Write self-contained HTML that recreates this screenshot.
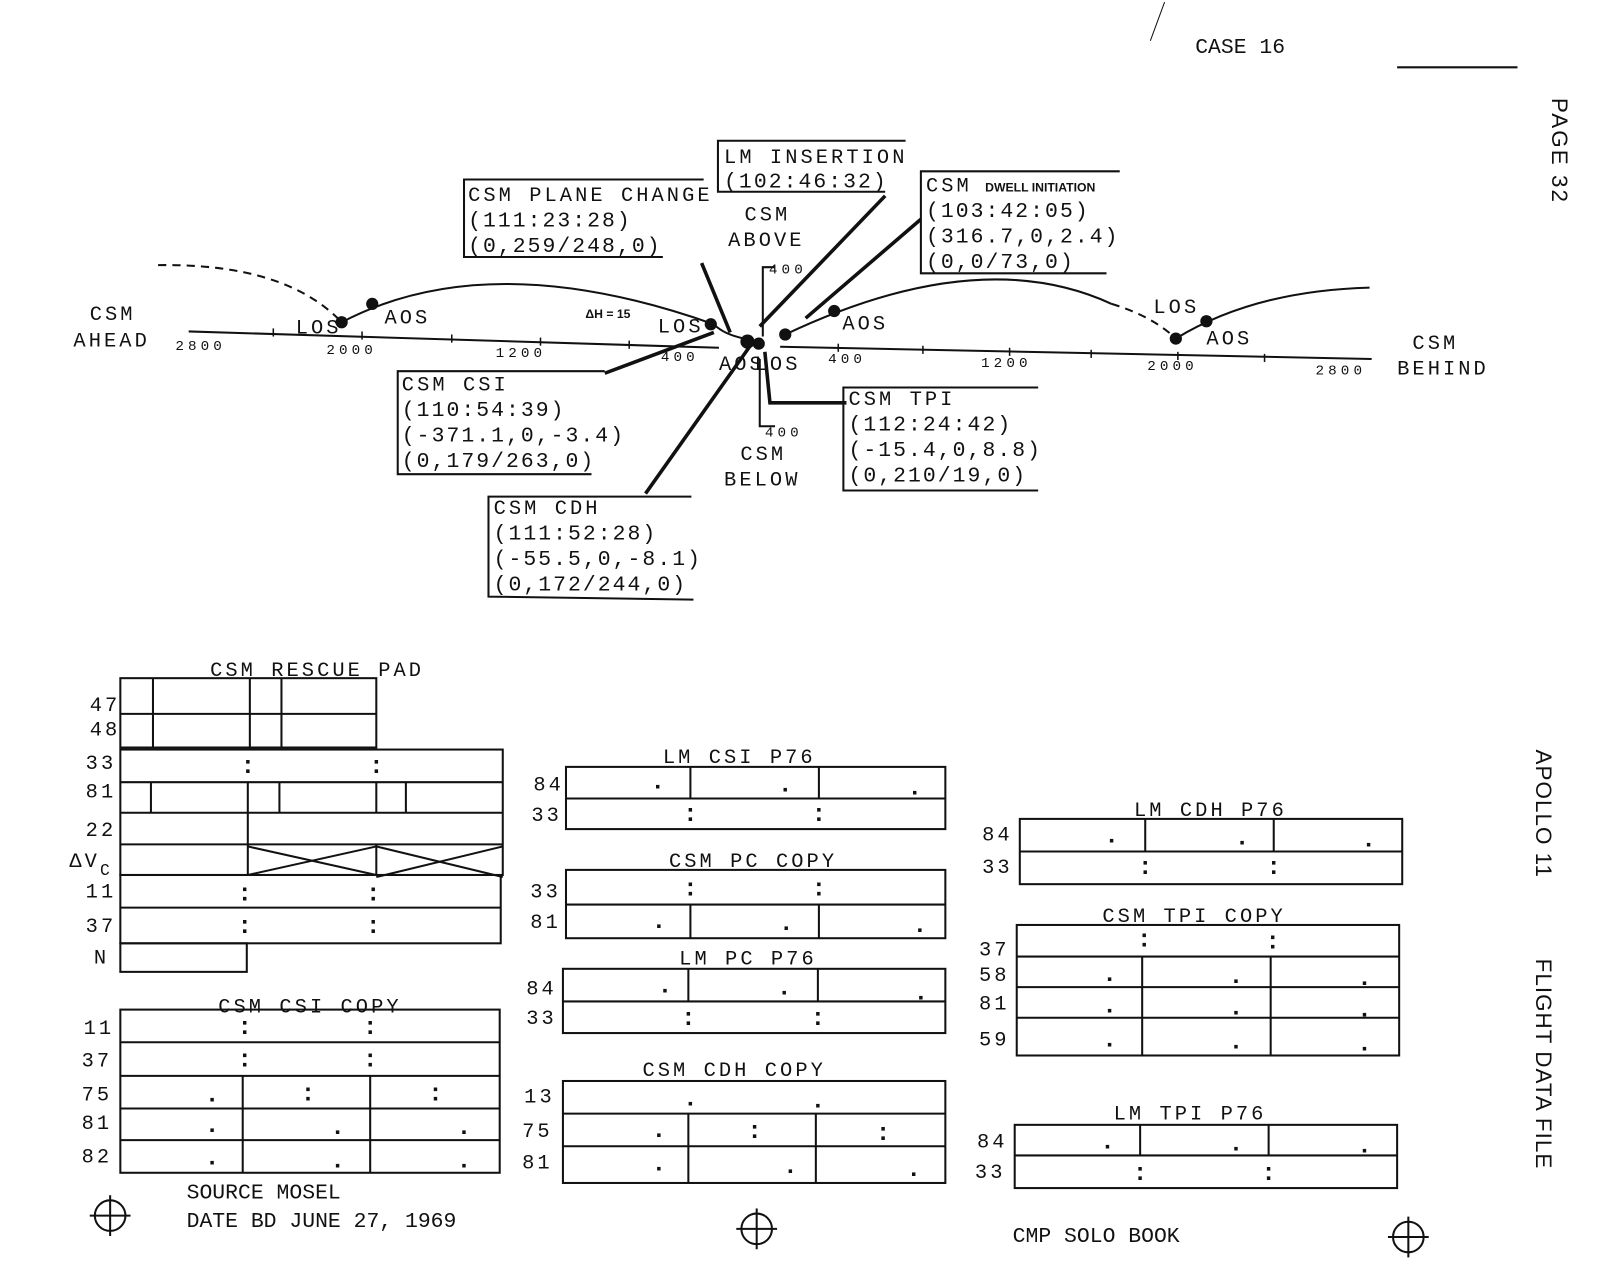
<!DOCTYPE html>
<html><head><meta charset="utf-8"><style>
html,body{margin:0;padding:0;background:#fff;}
svg{display:block;}
text{font-family:"Liberation Mono","DejaVu Sans Mono",monospace;fill:#111;}
.b{font-size:20px;letter-spacing:3px;}
.s{font-size:14px;letter-spacing:4px;}
.l{font-size:21px;letter-spacing:2px;}
.t{font-family:"Liberation Mono",monospace;font-size:21px;}
</style></head><body>
<svg width="1599" height="1275" viewBox="0 0 1599 1275" xmlns="http://www.w3.org/2000/svg">
<g transform="scale(1.0198)">
<g stroke="#111" fill="none" stroke-width="2">
<line x1="1370" y1="66" x2="1488" y2="66"/>
<line x1="1142" y1="2" x2="1128" y2="40" stroke-width="1"/>
<line x1="185" y1="325" x2="705" y2="341"/>
<line x1="765" y1="340" x2="1345" y2="352"/>
<g stroke-width="1.5">
<line x1="268" y1="322" x2="268" y2="330"/><line x1="355" y1="325" x2="355" y2="333"/><line x1="443" y1="328" x2="443" y2="336"/>
<line x1="530" y1="331" x2="530" y2="339"/><line x1="617" y1="334" x2="617" y2="342"/>
<line x1="822" y1="337" x2="822" y2="345"/><line x1="905" y1="339" x2="905" y2="347"/><line x1="990" y1="341" x2="990" y2="349"/>
<line x1="1070" y1="343" x2="1070" y2="351"/><line x1="1155" y1="345" x2="1155" y2="353"/><line x1="1240" y1="347" x2="1240" y2="355"/>
</g>
<path d="M155 260 Q280 258 335 316" stroke-dasharray="8,6"/>
<path d="M335 316 Q480 240 700 318"/>
<path d="M700 318 Q710 328 730 332"/>
<path d="M770 328 Q960 238 1090 298"/>
<path d="M1090 298 Q1130 310 1153 332" stroke-dasharray="8,6"/>
<path d="M1153 332 Q1230 285 1343 282"/>
<polyline points="760,262 748,262 748,330"/>
<polyline points="760,418 745,418 745,352"/>
<g stroke-width="3.5">
<line x1="688" y1="258" x2="716" y2="326"/>
<line x1="868" y1="192" x2="745" y2="320"/>
<line x1="903" y1="215" x2="790" y2="312"/>
<line x1="593" y1="366" x2="700" y2="326"/>
<polyline points="830,395 755,395 750,345"/>
<line x1="633" y1="484" x2="735" y2="340"/>
</g>
<polyline points="690,176 455,176 455,252 650,252"/>
<polyline points="888,138 704,138 704,188 868,188"/>
<polyline points="1098,168 903,168 903,268 1085,268"/>
<polyline points="593,364 390,364 390,465 580,465"/>
<polyline points="1018,380 827,380 827,481 1018,481"/>
<polyline points="678,487 479,487 479,585 680,588"/>
</g>
<g fill="#111">
<circle cx="335" cy="316" r="6"/><circle cx="365" cy="298" r="6"/>
<circle cx="697" cy="318" r="6"/><circle cx="733" cy="335" r="7"/><circle cx="744" cy="337" r="6"/>
<circle cx="770" cy="328" r="6"/><circle cx="818" cy="305" r="6"/>
<circle cx="1153" cy="332" r="6"/><circle cx="1183" cy="315" r="6"/>
</g>
<text x="1172" y="52" class="t">CASE 16</text>
<text transform="translate(1522,96) rotate(90)" style="font-family:'Liberation Sans',sans-serif;font-size:22px;letter-spacing:2px">PAGE  32</text>
<text transform="translate(1506,735) rotate(90)" style="font-family:'Liberation Sans',sans-serif;font-size:22px;letter-spacing:1px">APOLLO 11</text>
<text transform="translate(1506,940) rotate(90)" style="font-family:'Liberation Sans',sans-serif;font-size:22px;letter-spacing:1px">FLIGHT DATA FILE</text>
<text x="88" y="314" class="b">CSM</text><text x="72" y="340" class="b">AHEAD</text>
<text x="1385" y="342" class="b">CSM</text><text x="1370" y="367" class="b">BEHIND</text>
<text x="172" y="343" class="s">2800</text><text x="320" y="347" class="s">2000</text><text x="486" y="350" class="s">1200</text><text x="648" y="354" class="s">400</text>
<text x="812" y="356" class="s">400</text><text x="962" y="360" class="s">1200</text><text x="1125" y="363" class="s">2000</text><text x="1290" y="367" class="s">2800</text>
<text x="754" y="268" class="s">400</text><text x="750" y="428" class="s">400</text>
<text x="290" y="327" class="b">LOS</text><text x="377" y="317" class="b">AOS</text>
<text x="645" y="326" class="b">LOS</text><text x="705" y="363" class="b">AOS</text><text x="740" y="363" class="b">LOS</text>
<text x="826" y="323" class="b">AOS</text><text x="1131" y="307" class="b">LOS</text><text x="1183" y="338" class="b">AOS</text>
<text x="574" y="312" style="font-family:'Liberation Sans',sans-serif;font-size:12px;font-weight:bold">ΔH = 15</text>
<text x="730" y="216" class="b">CSM</text><text x="714" y="241" class="b">ABOVE</text>
<text x="726" y="451" class="b">CSM</text><text x="710" y="476" class="b">BELOW</text>
<text x="459" y="197" class="b">CSM PLANE CHANGE</text><text x="459" y="222" class="l">(111:23:28)</text><text x="459" y="247" class="l">(0,259/248,0)</text>
<text x="710" y="160" class="b">LM INSERTION</text><text x="710" y="184" class="l">(102:46:32)</text>
<text x="908" y="188" class="b">CSM</text><text x="966" y="188" style="font-family:'Liberation Sans',sans-serif;font-size:12px;font-weight:bold">DWELL INITIATION</text>
<text x="908" y="213" class="l">(103:42:05)</text><text x="908" y="238" class="l">(316.7,0,2.4)</text><text x="908" y="263" class="l">(0,0/73,0)</text>
<text x="394" y="383" class="b">CSM CSI</text><text x="394" y="408" class="l">(110:54:39)</text><text x="394" y="433" class="l">(-371.1,0,-3.4)</text><text x="394" y="458" class="l">(0,179/263,0)</text>
<text x="832" y="397" class="b">CSM TPI</text><text x="832" y="422" class="l">(112:24:42)</text><text x="832" y="447" class="l">(-15.4,0,8.8)</text><text x="832" y="472" class="l">(0,210/19,0)</text>
<text x="484" y="504" class="b">CSM CDH</text><text x="484" y="529" class="l">(111:52:28)</text><text x="484" y="554" class="l">(-55.5,0,-8.1)</text><text x="484" y="579" class="l">(0,172/244,0)</text>

<g stroke="#111" fill="none" stroke-width="2">
<rect x="118" y="665" width="251" height="68"/><line x1="118" y1="700" x2="369" y2="700"/>
<line x1="150" y1="665" x2="150" y2="733"/><line x1="245" y1="665" x2="245" y2="733"/><line x1="276" y1="665" x2="276" y2="733"/>
<rect x="118" y="735" width="375" height="123"/>
<line x1="118" y1="767" x2="493" y2="767"/><line x1="118" y1="797" x2="493" y2="797"/><line x1="118" y1="828" x2="493" y2="828"/>
<line x1="148" y1="767" x2="148" y2="797"/><line x1="243" y1="767" x2="243" y2="858"/><line x1="274" y1="767" x2="274" y2="797"/>
<line x1="369" y1="767" x2="369" y2="797"/><line x1="398" y1="767" x2="398" y2="797"/>
<line x1="243" y1="858" x2="369" y2="830"/><line x1="243" y1="830" x2="369" y2="858"/>
<line x1="369" y1="830" x2="493" y2="860"/><line x1="369" y1="860" x2="493" y2="830"/><line x1="369" y1="828" x2="369" y2="858"/>
<rect x="118" y="858" width="373" height="67"/><line x1="118" y1="890" x2="491" y2="890"/>
<rect x="118" y="925" width="124" height="28"/>
<rect x="118" y="990" width="372" height="160"/>
<line x1="118" y1="1022" x2="490" y2="1022"/><line x1="118" y1="1055" x2="490" y2="1055"/><line x1="118" y1="1087" x2="490" y2="1087"/><line x1="118" y1="1118" x2="490" y2="1118"/>
<line x1="238" y1="1055" x2="238" y2="1150"/><line x1="363" y1="1055" x2="363" y2="1150"/>
<rect x="555" y="752" width="372" height="61"/><line x1="555" y1="783" x2="927" y2="783"/><line x1="677" y1="752" x2="677" y2="783"/><line x1="803" y1="752" x2="803" y2="783"/>
<rect x="555" y="853" width="372" height="67"/><line x1="555" y1="887" x2="927" y2="887"/><line x1="677" y1="887" x2="677" y2="920"/><line x1="803" y1="887" x2="803" y2="920"/>
<rect x="552" y="950" width="375" height="63"/><line x1="552" y1="982" x2="927" y2="982"/><line x1="675" y1="950" x2="675" y2="982"/><line x1="802" y1="950" x2="802" y2="982"/>
<rect x="552" y="1060" width="375" height="100"/><line x1="552" y1="1092" x2="927" y2="1092"/><line x1="552" y1="1124" x2="927" y2="1124"/><line x1="675" y1="1092" x2="675" y2="1160"/><line x1="800" y1="1092" x2="800" y2="1160"/>
<rect x="1000" y="803" width="375" height="64"/><line x1="1000" y1="835" x2="1375" y2="835"/><line x1="1123" y1="803" x2="1123" y2="835"/><line x1="1249" y1="803" x2="1249" y2="835"/>
<rect x="997" y="907" width="375" height="128"/><line x1="997" y1="938" x2="1372" y2="938"/><line x1="997" y1="968" x2="1372" y2="968"/><line x1="997" y1="998" x2="1372" y2="998"/>
<line x1="1120" y1="938" x2="1120" y2="1035"/><line x1="1246" y1="938" x2="1246" y2="1035"/>
<rect x="995" y="1103" width="375" height="62"/><line x1="995" y1="1133" x2="1370" y2="1133"/><line x1="1118" y1="1103" x2="1118" y2="1133"/><line x1="1244" y1="1103" x2="1244" y2="1133"/>
<circle cx="108" cy="1192" r="15"/><line x1="88" y1="1192" x2="128" y2="1192"/><line x1="108" y1="1172" x2="108" y2="1212"/>
<circle cx="742" cy="1205" r="15"/><line x1="722" y1="1205" x2="762" y2="1205"/><line x1="742" y1="1185" x2="742" y2="1225"/>
<circle cx="1381" cy="1213" r="15"/><line x1="1361" y1="1213" x2="1401" y2="1213"/><line x1="1381" y1="1193" x2="1381" y2="1233"/>
</g>
<g>
<text x="206" y="663" class="b">CSM RESCUE PAD</text>
<text x="88" y="697" class="b">47</text><text x="88" y="721" class="b">48</text><text x="84" y="754" class="b">33</text><text x="84" y="782" class="b">81</text>
<text x="84" y="820" class="b">22</text><text x="68" y="850" class="b">ΔV</text><text x="98" y="858" style="font-size:16px">C</text>
<text x="84" y="880" class="b">11</text><text x="84" y="914" class="b">37</text><text x="92" y="945" class="b">N</text>
<text x="214" y="993" class="b">CSM CSI COPY</text>
<text x="82" y="1014" class="b">11</text><text x="80" y="1046" class="b">37</text><text x="80" y="1079" class="b">75</text><text x="80" y="1107" class="b">81</text><text x="80" y="1140" class="b">82</text>
<text x="650" y="748" class="b">LM CSI P76</text><text x="523" y="775" class="b">84</text><text x="521" y="805" class="b">33</text>
<text x="656" y="850" class="b">CSM PC COPY</text><text x="520" y="880" class="b">33</text><text x="520" y="910" class="b">81</text>
<text x="666" y="946" class="b">LM PC P76</text><text x="516" y="975" class="b">84</text><text x="516" y="1004" class="b">33</text>
<text x="630" y="1055" class="b">CSM CDH COPY</text><text x="514" y="1081" class="b">13</text><text x="512" y="1115" class="b">75</text><text x="512" y="1146" class="b">81</text>
<text x="1112" y="800" class="b">LM CDH P76</text><text x="963" y="824" class="b">84</text><text x="963" y="856" class="b">33</text>
<text x="1081" y="904" class="b">CSM TPI COPY</text><text x="960" y="937" class="b">37</text><text x="960" y="962" class="b">58</text><text x="960" y="990" class="b">81</text><text x="960" y="1025" class="b">59</text>
<text x="1092" y="1098" class="b">LM TPI P76</text><text x="958" y="1125" class="b">84</text><text x="956" y="1155" class="b">33</text>
</g>
<g style="font-size:24px;font-weight:bold" text-anchor="middle">
<text x="243" y="758">:</text><text x="369" y="758">:</text>
<text x="240" y="883">:</text><text x="366" y="883">:</text><text x="240" y="915">:</text><text x="366" y="915">:</text>
<text x="240" y="1014">:</text><text x="363" y="1014">:</text><text x="240" y="1046">:</text><text x="363" y="1046">:</text>
<text x="302" y="1079">:</text><text x="427" y="1079">:</text>
<text x="208" y="1080">.</text><text x="208" y="1110">.</text><text x="331" y="1112">.</text><text x="455" y="1112">.</text><text x="208" y="1142">.</text><text x="331" y="1145">.</text><text x="455" y="1145">.</text>
<text x="645" y="773">.</text><text x="770" y="776">.</text><text x="897" y="779">.</text><text x="677" y="805">:</text><text x="803" y="805">:</text>
<text x="677" y="878">:</text><text x="803" y="878">:</text><text x="646" y="910">.</text><text x="771" y="912">.</text><text x="902" y="914">.</text>
<text x="652" y="973">.</text><text x="769" y="975">.</text><text x="903" y="980">.</text><text x="675" y="1005">:</text><text x="802" y="1005">:</text>
<text x="677" y="1084">.</text><text x="802" y="1086">.</text><text x="646" y="1115">.</text><text x="740" y="1116">:</text><text x="866" y="1118">:</text>
<text x="646" y="1148">.</text><text x="775" y="1150">.</text><text x="896" y="1153">.</text>
<text x="1090" y="826">.</text><text x="1218" y="828">.</text><text x="1342" y="830">.</text><text x="1123" y="857">:</text><text x="1249" y="857">:</text>
<text x="1122" y="928">:</text><text x="1248" y="930">:</text>
<text x="1088" y="962">.</text><text x="1212" y="964">.</text><text x="1338" y="966">.</text>
<text x="1088" y="993">.</text><text x="1212" y="995">.</text><text x="1338" y="997">.</text>
<text x="1088" y="1026">.</text><text x="1212" y="1028">.</text><text x="1338" y="1030">.</text>
<text x="1086" y="1126">.</text><text x="1212" y="1128">.</text><text x="1338" y="1130">.</text><text x="1118" y="1157">:</text><text x="1244" y="1157">:</text>
</g>
<text x="183" y="1175" class="t">SOURCE  MOSEL</text>
<text x="183" y="1203" class="t">DATE  BD   JUNE 27, 1969</text>
<text x="993" y="1218" class="t">CMP SOLO BOOK</text>
</g>
</svg>
</body></html>
